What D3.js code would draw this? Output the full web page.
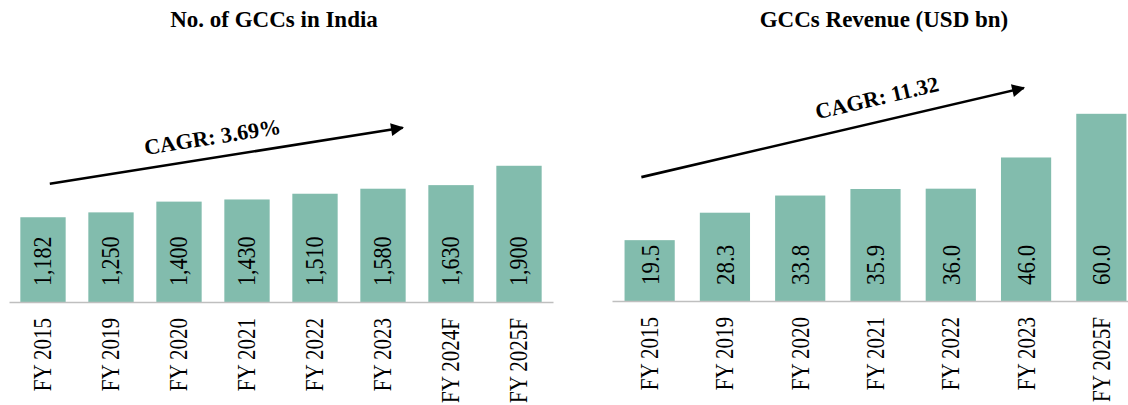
<!DOCTYPE html>
<html>
<head>
<meta charset="utf-8">
<script src="https://cdn.jsdelivr.net/npm/d3@7"></script>
<style>
  body { margin: 0; background: #fff; }
  svg { display: block; font-family: "Liberation Serif", "Times New Roman", serif; }
</style>
</head>
<body>
<script>
// DATA
var gccYears = ["FY 2015", "FY 2019", "FY 2020", "FY 2021", "FY 2022", "FY 2023", "FY 2024F", "FY 2025F"];
var gccCounts = [1182, 1250, 1400, 1430, 1510, 1580, 1630, 1900];
var gccCountLabels = ["1,182", "1,250", "1,400", "1,430", "1,510", "1,580", "1,630", "1,900"];

var revYears = ["FY 2015", "FY 2019", "FY 2020", "FY 2021", "FY 2022", "FY 2023", "FY 2025F"];
var revValues = [19.5, 28.3, 33.8, 35.9, 36.0, 46.0, 60.0];
var revLabels = ["19.5", "28.3", "33.8", "35.9", "36.0", "46.0", "60.0"];

var titles = ["No. of GCCs in India", "GCCs Revenue (USD bn)"];
var cagrTexts = ["CAGR: 3.69%", "CAGR: 11.32"];

// LAYOUT
var width = 1128;
var height = 405;
var barColor = "#82bcad";
var axisColor = "#bfbfbf";

var svg = d3.select("body").append("svg")
  .attr("width", width)
  .attr("height", height);

svg.append("defs").append("marker")
  .attr("id", "arrow")
  .attr("viewBox", "0 0 10 10")
  .attr("refX", 9)
  .attr("refY", 5)
  .attr("markerWidth", 7)
  .attr("markerHeight", 5)
  .attr("markerUnits", "strokeWidth")
  .attr("orient", "auto")
  .append("path")
  .attr("d", "M0,0 L10,5 L0,10 Z")
  .attr("fill", "#000");

function drawChart(opts) {
  var g = svg.append("g");

  var x = d3.scaleBand()
    .domain(opts.cats)
    .range(opts.xRange)
    .paddingInner(1 / 3)
    .paddingOuter(1 / 6);

  var y = d3.scaleLinear()
    .domain([0, opts.topValue])
    .range([opts.baseline, opts.baseline - opts.topValue * opts.pxPerUnit]);

  // x at a fractional band index
  function xAt(idx) {
    return x(opts.cats[0]) + x.bandwidth() / 2 + idx * x.step();
  }

  // title
  g.append("text")
    .attr("x", opts.titleX)
    .attr("y", 27)
    .attr("text-anchor", "middle")
    .attr("font-weight", "bold")
    .attr("font-size", 23)
    .text(opts.title);

  // bars
  g.selectAll("rect.bar")
    .data(opts.values)
    .enter()
    .append("rect")
    .attr("class", "bar")
    .attr("x", function(d, i) { return x(opts.cats[i]); })
    .attr("y", function(d) { return y(d); })
    .attr("width", x.bandwidth())
    .attr("height", function(d) { return y(0) - y(d); })
    .attr("fill", barColor);

  // value labels, rotated inside the bars
  g.selectAll("text.val")
    .data(opts.labels)
    .enter()
    .append("text")
    .attr("class", "val")
    .attr("transform", function(d, i) {
      return "translate(" + (x(opts.cats[i]) + x.bandwidth() / 2) + "," + (y(0) - 16) + ") rotate(-90) scale(1,1.1)";
    })
    .attr("dy", "0.35em")
    .attr("font-size", opts.valSize)
    .attr("fill", "#000")
    .text(function(d) { return d; });

  // x axis
  var axis = g.append("g")
    .attr("transform", "translate(0," + y(0) + ")")
    .call(d3.axisBottom(x).tickSize(0).tickPadding(0));

  axis.select(".domain").attr("stroke", axisColor).attr("stroke-width", 1.3);
  axis.selectAll("text")
    .attr("transform", "rotate(-90) scale(1,1.15)")
    .attr("x", -16)
    .attr("y", 0)
    .attr("dy", "0.35em")
    .attr("text-anchor", "end")
    .attr("font-family", "Liberation Serif, Times New Roman, serif")
    .attr("font-size", 21)
    .attr("fill", "#000");

  // CAGR arrow
  var x0 = xAt(opts.arrow[0]), y0 = y(opts.arrow[1]);
  var x1 = xAt(opts.arrow[2]), y1 = y(opts.arrow[3]);
  g.append("line")
    .attr("x1", x0).attr("y1", y0)
    .attr("x2", x1).attr("y2", y1)
    .attr("stroke", "#000")
    .attr("stroke-width", 2.6)
    .attr("marker-end", "url(#arrow)");

  var angle = Math.atan2(y1 - y0, x1 - x0);
  var tx = x0 + (x1 - x0) * opts.textT;
  var ty = y0 + (y1 - y0) * opts.textT;
  tx += Math.sin(angle) * opts.textOff;
  ty -= Math.cos(angle) * opts.textOff;
  g.append("text")
    .attr("transform", "translate(" + tx + "," + ty + ") rotate(" + (angle * 180 / Math.PI) + ")")
    .attr("text-anchor", "middle")
    .attr("dy", "0.35em")
    .attr("font-weight", "bold")
    .attr("font-size", 22)
    .text(opts.cagr);
}

drawChart({
  cats: gccYears,
  values: gccCounts,
  labels: gccCountLabels,
  title: titles[0],
  cagr: cagrTexts[0],
  titleX: 274,
  xRange: [9, 553],
  baseline: 302,
  topValue: 1900,
  pxPerUnit: 0.0717,
  valSize: 22,
  arrow: [0.1, 1650, 5.29, 2430],
  textT: 0.47,
  textOff: 21
});

drawChart({
  cats: revYears,
  values: revValues,
  labels: revLabels,
  title: titles[1],
  cagr: cagrTexts[1],
  titleX: 884,
  xRange: [612, 1139],
  baseline: 301,
  topValue: 60,
  pxPerUnit: 3.12,
  valSize: 23,
  arrow: [-0.11, 39.7, 4.97, 68.3],
  textT: 0.63,
  textOff: 24
});
</script>
</body>
</html>
